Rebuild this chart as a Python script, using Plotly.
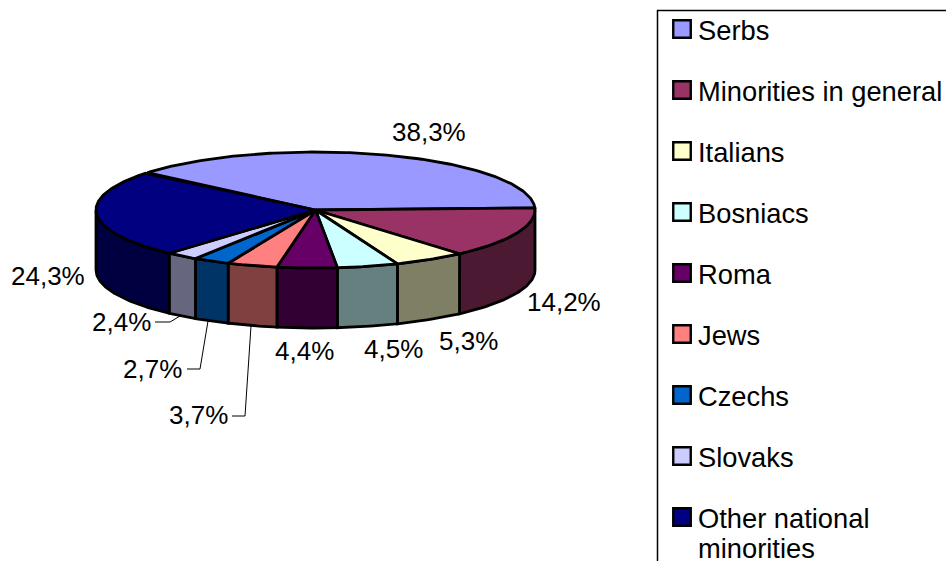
import math
import plotly.graph_objects as go

categories = ["Serbs", "Minorities in general", "Italians", "Bosniacs", "Roma",
              "Jews", "Czechs", "Slovaks", "Other national", "minorities"]
values = [38.3, 14.2, 5.3, 4.5, 4.4, 3.7, 2.7, 2.4, 24.3]
colors = ["#9999FF", "#993366", "#FFFFCC", "#CCFFFF", "#660066",
          "#FF8080", "#0066CC", "#CCCCFF", "#000080"]
label_x = [429, 564, 468, 393, 304, 198, 152, 121, 48]
label_y = [132, 302, 341, 349, 351, 415, 369, 322, 276]
legend_y = [29, 90, 151, 212, 273, 334, 395, 456, 517]
text_y = [30, 91, 152, 213, 274, 335, 396, 457, 518, 548.5]
leader_x = [[155, 170, 180], [187, 200, 208], [232, 245, 251]]
leader_y = [[322, 322, 316], [369, 369, 321], [416, 416, 326]]

W, H = 946, 561
CX, CY, RX, RY, DEPTH = 315.5, 210, 219.5, 58, 60
START = -50.0
FONT = "Liberation Sans, Arial, sans-serif"


def darken(c):
    r, g, b = (int(c[i:i + 2], 16) // 2 for i in (1, 3, 5))
    return f"#{r:02X}{g:02X}{b:02X}"


def rim(a1, a2, dy=0.0, n=None):
    n = n or max(2, int(abs(a2 - a1)) + 2)
    xs, ys = [], []
    for i in range(n):
        a = math.radians(a1 + (a2 - a1) * i / (n - 1))
        xs.append(CX + RX * math.sin(a))
        ys.append(CY - RY * math.cos(a) + dy)
    return xs, ys


def poly(xs, ys, fill, width=2.8):
    return go.Scatter(x=xs + xs[:1], y=ys + ys[:1], mode="lines", fill="toself",
                      fillcolor=fill, line=dict(color="black", width=width),
                      hoverinfo="skip", showlegend=False)


bounds = [START]
for v in values:
    bounds.append(bounds[-1] + v * 3.6)

fig = go.Figure()
sides, tops = [], []
for i, c in enumerate(colors):
    a1, a2 = bounds[i], bounds[i + 1]
    s1, s2 = max(a1, 90), min(a2, 270)
    if s2 > s1:
        x1, y1 = rim(s1, s2)
        x2, y2 = rim(s2, s1, DEPTH)
        sides.append(poly(x1 + x2, y1 + y2, darken(c)))
    x, y = rim(a1, a2)
    tops.append(poly([CX] + x, [CY] + y, c))
fig.add_traces(sides + tops)

for lx, ly in zip(leader_x, leader_y):
    fig.add_trace(go.Scatter(x=lx, y=ly, mode="lines", line=dict(color="black", width=1),
                             hoverinfo="skip", showlegend=False))

fig.add_trace(go.Scatter(x=[682] * len(colors), y=legend_y, mode="markers",
                         marker=dict(symbol="square", size=17.5, color=colors,
                                     line=dict(color="black", width=2.4)),
                         hoverinfo="skip", showlegend=False))

annotations = []
for v, x, y in zip(values, label_x, label_y):
    annotations.append(dict(x=x, y=y, xref="x", yref="y", showarrow=False,
                            text=f"{v:.1f}%".replace(".", ","),
                            font=dict(family=FONT, size=26, color="black")))
for name, y in zip(categories, text_y):
    annotations.append(dict(x=696, y=y, xref="x", yref="y", showarrow=False,
                            text=name, align="left", xanchor="left", yanchor="middle",
                            font=dict(family=FONT, size=27.3, color="black")))

fig.update_layout(
    width=W, height=H, margin=dict(l=0, r=0, t=0, b=0, pad=0), autosize=False,
    paper_bgcolor="white", plot_bgcolor="white", showlegend=False,
    xaxis=dict(range=[0, W], visible=False, fixedrange=True),
    yaxis=dict(range=[H, 0], visible=False, fixedrange=True),
    annotations=annotations,
    shapes=[dict(type="rect", xref="x", yref="y", x0=657.5, x1=1000, y0=10.5, y1=700,
                 line=dict(color="black", width=1.5), layer="below")],
)
fig.write_html("out.html", config={"displayModeBar": False},
               post_script="document.body.style.margin='0';document.documentElement.style.overflow='hidden';")
